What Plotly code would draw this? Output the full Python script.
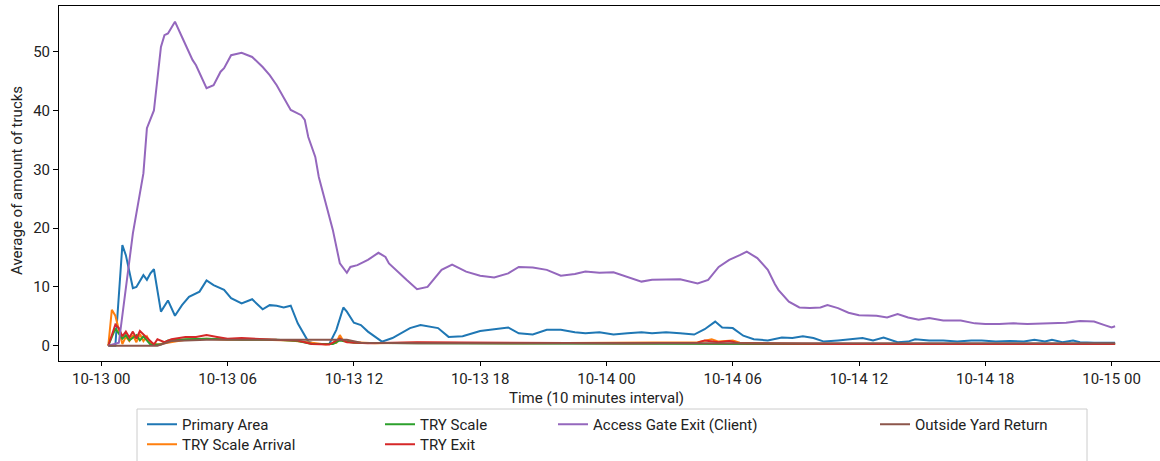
import pandas as pd
import plotly.graph_objects as go

# time stamps are minutes after 10-13 00:00 (10 minute buckets)
BASE = pd.Timestamp("2022-10-13 00:00")

primary_min = [20, 40, 60, 70, 90, 100, 120, 130, 140, 150, 170, 190, 210, 230, 250, 280, 300, 320, 350, 370,
               400, 430, 460, 480, 500, 520, 540, 560, 590, 610, 650, 670, 690, 700, 720, 740, 760, 780, 800, 820,
               830, 880, 910, 960, 990, 1030, 1080, 1120, 1160, 1190, 1230, 1270, 1310, 1350, 1380, 1420, 1460, 1500,
               1540, 1570, 1610, 1650, 1690, 1720, 1750, 1770, 1800, 1830, 1860, 1900, 1930, 1940, 1970, 2000, 2030,
               2060, 2100, 2130, 2170, 2200, 2230, 2270, 2300, 2320, 2360, 2400, 2440, 2480, 2510, 2550, 2590, 2630,
               2660, 2690, 2710, 2740, 2770, 2790, 2830, 2890]
primary_val = [0, 0, 17.1, 15.4, 9.8, 10, 12, 11.2, 12.3, 13, 5.8, 7.7, 5.1, 6.9, 8.3, 9.2, 11.1, 10.3, 9.5, 8.1,
               7.2, 7.9, 6.2, 6.9, 6.8, 6.5, 6.8, 3.8, 0.7, 0.3, 0.3, 2.7, 6.5, 5.8, 3.9, 3.5, 2.4, 1.5, 0.7, 1.1,
               1.3, 3.0, 3.5, 3.0, 1.5, 1.6, 2.5, 2.8, 3.1, 2.1, 1.9, 2.7, 2.7, 2.3, 2.1, 2.3, 1.9, 2.1,
               2.3, 2.1, 2.3, 2.1, 1.9, 2.8, 4.1, 3.1, 3.0, 1.7, 1.1, 0.9, 1.3, 1.4, 1.3, 1.6, 1.3,
               0.7, 0.9, 1.1, 1.3, 0.9, 1.4, 0.6, 0.7, 1.1, 0.9, 0.9, 0.7, 0.9, 0.9, 0.7, 0.8, 0.7,
               1.0, 0.7, 1.0, 0.6, 0.9, 0.6, 0.5, 0.5]

arrival_min = [20, 30, 40, 50, 60, 70, 80, 90, 100, 110, 120, 130, 140, 160, 200, 240, 300, 360, 420, 480, 540,
               600, 640, 670, 680, 690, 720, 780, 900, 1200, 1500, 1700, 1740, 1760, 1800, 1820, 2000, 2400, 2890]
arrival_val = [0, 6.1, 5.1, 2.7, 0.3, 1.5, 0.8, 1.8, 0.6, 2.0, 0.8, 1.6, 0.4, 0.2, 0.6, 1.0, 1.2, 1.0, 1.1, 1.0, 0.9,
               0.5, 0.2, 0.5, 1.8, 0.8, 0.6, 0.4, 0.5, 0.4, 0.5, 0.6, 1.1, 0.7, 0.9, 0.5, 0.3, 0.3, 0.3]

scale_min = [20, 40, 60, 70, 80, 100, 110, 120, 140, 170, 190, 240, 300, 400, 500, 560, 600, 660, 680, 720, 900,
             1500, 2000, 2890]
scale_val = [0, 2.9, 1.2, 1.8, 0.9, 1.8, 0.9, 1.6, 0.2, 0.2, 0.9, 1.1, 1.2, 1.0, 1.0, 0.8, 0.3, 0.3, 0.9, 0.5, 0.4,
             0.3, 0.3, 0.3]

exit_min = [20, 40, 50, 60, 70, 80, 90, 100, 110, 120, 130, 150, 160, 180, 200, 240, 270, 300, 330, 360, 400, 450,
            500, 560, 600, 650, 680, 700, 760, 900, 1200, 1500, 1700, 1720, 1760, 1790, 1820, 2100, 2500, 2890]
exit_val = [0, 3.6, 3.0, 1.6, 2.4, 1.4, 2.4, 1.2, 2.5, 1.9, 1.4, 0.2, 1.1, 0.6, 1.1, 1.5, 1.5, 1.8, 1.5, 1.2, 1.3, 1.1,
            1.0, 0.9, 0.3, 0.2, 1.2, 0.6, 0.4, 0.6, 0.5, 0.4, 0.5, 0.9, 0.6, 0.8, 0.4, 0.3, 0.3, 0.3]

gate_min = [20, 50, 90, 120, 130, 150, 170, 180, 190, 210, 230, 260, 270, 300, 320, 340, 350, 370, 400, 430,
            460, 480, 500, 520, 540, 570, 580, 590, 610, 620, 660, 680, 700, 710, 730, 760, 790, 810, 820, 870,
            900, 930, 970, 1000, 1040, 1080, 1120, 1160, 1190, 1230, 1270, 1310, 1350, 1380, 1420, 1460, 1500, 1540,
            1570, 1610, 1650, 1700, 1730, 1760, 1790, 1820, 1840, 1870, 1900, 1920, 1930, 1960, 1990, 2020, 2050,
            2070, 2100, 2130, 2160, 2210, 2240, 2270, 2300, 2330, 2360, 2400, 2450, 2490, 2520, 2560, 2600, 2640,
            2680, 2710, 2750, 2790, 2830, 2860, 2880, 2890]
gate_val = [0, 0.5, 19.1, 29.3, 37, 40, 50.8, 52.8, 53.1, 55.1, 52.5, 48.6, 47.7, 43.8, 44.3, 46.6, 47.2, 49.4, 49.8, 49.1,
            47.4, 46, 44.3, 42.3, 40.1, 39.2, 38.4, 35.5, 32.1, 28.7, 19.7, 14, 12.4, 13.4, 13.7, 14.6, 15.8, 15.1, 14, 11.2,
            9.6, 10, 12.9, 13.8, 12.6, 11.9, 11.6, 12.3, 13.4, 13.3, 12.9, 11.9, 12.2, 12.6, 12.4, 12.5, 11.7, 10.9,
            11.2, 11.2, 11.3, 10.6, 11.2, 13.4, 14.6, 15.4, 16, 14.9, 12.9, 10.5, 9.5, 7.5, 6.5, 6.4, 6.5,
            6.9, 6.4, 5.6, 5.2, 5.1, 4.8, 5.4, 4.8, 4.4, 4.7, 4.3, 4.3, 3.8, 3.7, 3.7, 3.8, 3.7,
            3.8, 3.8, 3.9, 4.2, 4.1, 3.5, 3.1, 3.3]

yard_min = [20, 160, 200, 300, 500, 700, 740, 900, 2890]
yard_val = [0, 0, 0.8, 1.0, 1.0, 1.0, 0.5, 0.4, 0.4]

# name, x, y, colour, legend id, legend slot (left px, row top px)
series = [
    ("Primary Area", primary_min, primary_val, "#1f77b4", "legend", (142, 408)),
    ("TRY Scale Arrival", arrival_min, arrival_val, "#ff7f0e", "legend2", (142, 428)),
    ("TRY Scale", scale_min, scale_val, "#2ca02c", "legend3", (380, 408)),
    ("TRY Exit", exit_min, exit_val, "#d62728", "legend4", (380, 428)),
    ("Access Gate Exit (Client)", gate_min, gate_val, "#9467bd", "legend5", (553, 408)),
    ("Outside Yard Return", yard_min, yard_val, "#8c564b", "legend6", (875, 408)),
]

FONT = "Roboto, Arial, sans-serif"
W, H = 1160, 461
L, R, T, B = 59, 1160, 6, 361  # plot area in pixels


def px_x(p):
    return (p - L) / (R - L)


def px_y(p):
    return (B - p) / (B - T)


fig = go.Figure()
legends = {}
for name, mins, vals, color, leg, (lx, ly) in series:
    fig.add_trace(go.Scatter(
        x=BASE + pd.to_timedelta(mins, unit="m"),
        y=vals,
        mode="lines",
        name=name,
        line=dict(color=color, width=2),
        legend=leg,
        showlegend=True,
    ))
    legends[leg] = dict(
        x=px_x(lx), y=px_y(ly), orientation="v", xanchor="left", yanchor="top",
        bgcolor="rgba(0,0,0,0)", borderwidth=0, itemwidth=30,
        font=dict(family=FONT, size=15, color="#222"),
    )

fig.update_layout(
    width=W, height=H,
    showlegend=True,
    margin=dict(l=L, r=W - R, t=T, b=H - B, autoexpand=False),
    paper_bgcolor="white", plot_bgcolor="white",
    font=dict(family=FONT, size=15, color="#222"),
    xaxis=dict(
        type="date",
        range=[BASE - pd.Timedelta(hours=2.01), BASE + pd.Timedelta(hours=50.3)],
        tick0=BASE, dtick=6 * 3600 * 1000, tickformat="%m-%d %H",
        ticks="outside", ticklen=4, tickcolor="black",
        showline=True, linecolor="black", linewidth=1, mirror=True,
        showgrid=False, zeroline=False,
        tickfont=dict(family=FONT, size=15, color="#222"),
    ),
    yaxis=dict(
        range=[-2.6, 57.77], tickvals=[0, 10, 20, 30, 40, 50],
        ticks="outside", ticklen=5, tickcolor="black",
        showline=True, linecolor="black", linewidth=1,
        showgrid=False, zeroline=False,
        tickfont=dict(family=FONT, size=15, color="#222"),
    ),
    annotations=[
        dict(text="Time (10 minutes interval)", xref="paper", yref="paper",
             x=px_x(596), y=px_y(398), showarrow=False, xanchor="center", yanchor="middle",
             font=dict(family=FONT, size=15, color="#222")),
        dict(text="Average of amount of trucks", xref="paper", yref="paper",
             x=px_x(17), y=px_y(181), showarrow=False, textangle=-90,
             xanchor="center", yanchor="middle",
             font=dict(family=FONT, size=15, color="#222")),
    ],
    shapes=[
        dict(type="rect", xref="paper", yref="paper",
             x0=px_x(137), x1=px_x(1087), y0=px_y(475), y1=px_y(409),
             line=dict(color="#cccccc", width=1), fillcolor="rgba(0,0,0,0)", layer="below"),
    ],
    **legends,
)

# page body has an 8px default margin; drop it so the figure sits at the window corner
fig.write_html("out.html", config={"displayModeBar": False},
               post_script="document.body.style.margin = '0';")
